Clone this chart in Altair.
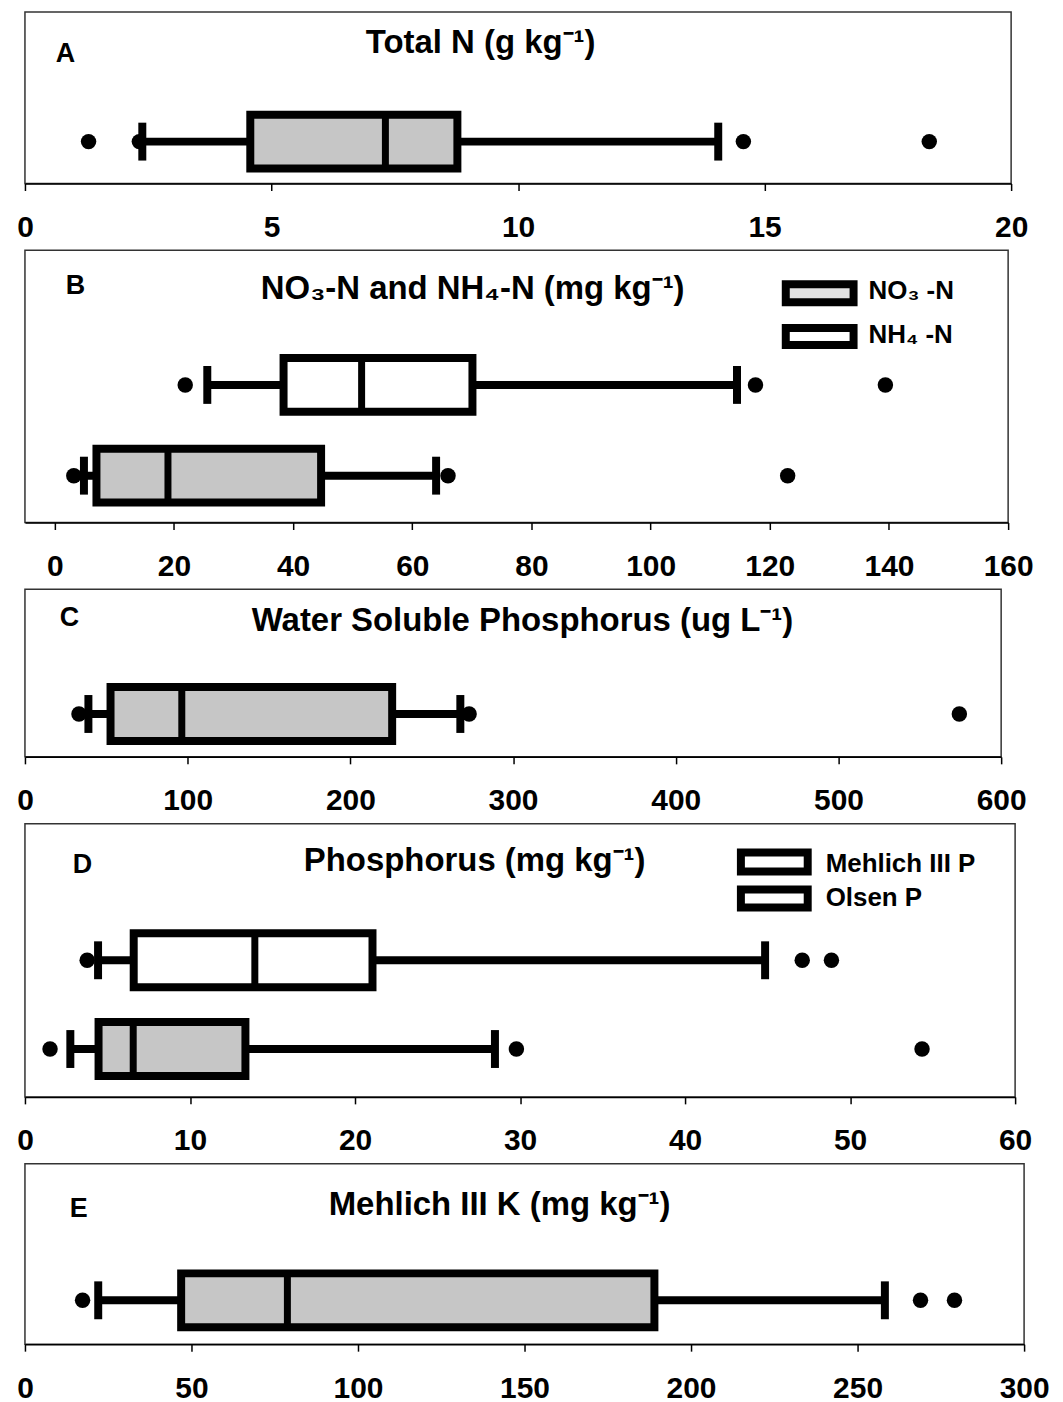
import altair as alt
import pandas as pd

FONT = "Liberation Sans"
GREY = "#c6c6c6"

# ---------------- data ----------------
# A: Total N (g kg-1)
a_series = ["Total N"]
a_low = [2.38]
a_q1 = [4.57]
a_median = [7.31]
a_q3 = [8.77]
a_high = [14.06]
a_out_series = ["Total N", "Total N", "Total N", "Total N"]
a_out_value = [1.29, 2.32, 14.57, 18.34]

# B: NO3-N and NH4-N (mg kg-1)
b_series = ["NH₄ -N", "NO₃ -N"]
b_low = [25.6, 4.9]
b_q1 = [38.4, 7.0]
b_median = [51.5, 19.0]
b_q3 = [70.1, 44.7]
b_high = [114.5, 64.0]
b_out_series = ["NH₄ -N", "NH₄ -N", "NH₄ -N", "NO₃ -N", "NO₃ -N", "NO₃ -N"]
b_out_value = [21.9, 117.6, 139.4, 3.2, 66.0, 123.0]

# C: Water soluble phosphorus (ug L-1)
c_series = ["WSP"]
c_low = [39.0]
c_q1 = [52.6]
c_median = [96.4]
c_q3 = [225.7]
c_high = [267.6]
c_out_series = ["WSP", "WSP", "WSP"]
c_out_value = [33.2, 273.0, 574.3]

# D: Phosphorus (mg kg-1)
d_series = ["Mehlich III P", "Olsen P"]
d_low = [4.43, 2.75]
d_q1 = [6.59, 4.46]
d_median = [13.93, 6.56]
d_q3 = [21.06, 13.36]
d_high = [44.85, 28.48]
d_out_series = ["Mehlich III P", "Mehlich III P", "Mehlich III P", "Olsen P", "Olsen P", "Olsen P"]
d_out_value = [3.77, 47.1, 48.87, 1.52, 29.78, 54.36]

# E: Mehlich III K (mg kg-1)
e_series = ["Mehlich III K"]
e_low = [22.0]
e_q1 = [46.9]
e_median = [78.8]
e_q3 = [189.0]
e_high = [258.2]
e_out_series = ["Mehlich III K", "Mehlich III K", "Mehlich III K"]
e_out_value = [17.3, 268.9, 279.1]

# tick labels
a_ticks = [0, 5, 10, 15, 20]
b_ticks = [0, 20, 40, 60, 80, 100, 120, 140, 160]
c_ticks = [0, 100, 200, 300, 400, 500, 600]
d_ticks = [0, 10, 20, 30, 40, 50, 60]
e_ticks = [0, 50, 100, 150, 200, 250, 300]


def panel(series, low, q1, med, q3, high, out_series, out_value, fills,
          domain, ticks, width, height, rows, title, letter,
          title_xy, letter_xy, legend=None):
    stats = pd.DataFrame({"series": series, "low": low, "q1": q1,
                          "median": med, "q3": q3, "high": high})
    outs = pd.DataFrame({"series": out_series, "value": out_value})
    xscale = alt.Scale(domain=domain, nice=False, zero=False)
    ax = alt.Axis(values=ticks, title=None, grid=False, labelFlush=False,
                  format="d")

    def X(field):
        return alt.X(field, type="quantitative", scale=xscale, axis=ax)

    yenc = alt.Y("series:N",
                 scale=alt.Scale(type="point", domain=series, range=rows, padding=0),
                 axis=None)

    whisker = alt.Chart(stats).mark_rule(color="black", strokeWidth=8).encode(
        x=X("low"), x2="high", y=yenc)
    cap_lo = alt.Chart(stats).mark_tick(orient="vertical", color="black", opacity=1,
                                        size=38, thickness=8).encode(x=X("low"), y=yenc)
    cap_hi = alt.Chart(stats).mark_tick(orient="vertical", color="black", opacity=1,
                                        size=38, thickness=8).encode(x=X("high"), y=yenc)
    box = alt.Chart(stats).mark_bar(size=54, stroke="black", strokeWidth=8,
                                    strokeJoin="miter", opacity=1).encode(
        x=X("q1"), x2="q3", y=yenc,
        fill=alt.Fill("series:N", scale=alt.Scale(domain=series, range=fills), legend=None))
    median = alt.Chart(stats).mark_tick(orient="vertical", color="black", opacity=1,
                                        size=54, thickness=7).encode(x=X("median"), y=yenc)
    points = alt.Chart(outs).mark_circle(size=240, color="black", opacity=1).encode(
        x=X("value"), y=yenc)

    ttl = alt.Chart(pd.DataFrame({"t": [title]})).mark_text(
        font=FONT, fontSize=33, fontWeight="bold", align="center",
        baseline="alphabetic", color="black").encode(
        x=alt.value(title_xy[0]), y=alt.value(title_xy[1]), text="t:N")
    let = alt.Chart(pd.DataFrame({"t": [letter]})).mark_text(
        font=FONT, fontSize=27, fontWeight="bold", align="left",
        baseline="alphabetic", color="black").encode(
        x=alt.value(letter_xy[0]), y=alt.value(letter_xy[1]), text="t:N")

    layers = [whisker, cap_lo, cap_hi, box, median, points, ttl, let]

    if legend is not None:
        labels, lfills, rx, rys, tx, tys = legend
        for lab, lf, (y0, y1), ty in zip(labels, lfills, rys, tys):
            d = pd.DataFrame({"t": [lab]})
            layers.append(alt.Chart(d).mark_rect(fill=lf, stroke="black", strokeWidth=8,
                                                 strokeJoin="miter").encode(
                x=alt.value(rx[0]), x2=alt.value(rx[1]),
                y=alt.value(y0), y2=alt.value(y1)))
            layers.append(alt.Chart(d).mark_text(
                font=FONT, fontSize=26, fontWeight="bold", align="left",
                baseline="alphabetic", color="black").encode(
                x=alt.value(tx), y=alt.value(ty), text="t:N"))

    return alt.layer(*layers).properties(width=width, height=height)


pA = panel(a_series, a_low, a_q1, a_median, a_q3, a_high, a_out_series, a_out_value,
           [GREY], [0, 20], a_ticks, 989, 172, [130, 130],
           "Total N (g kg⁻¹)", "A", (457, 41), (31, 50))

pB = panel(b_series, b_low, b_q1, b_median, b_q3, b_high, b_out_series, b_out_value,
           ["white", GREY], [-5, 160], b_ticks, 986, 273, [135, 226],
           "NO₃-N and NH₄-N  (mg kg⁻¹)", "B", (449, 49), (41, 44),
           legend=(["NO₃ -N", "NH₄ -N"], ["#e2e2e2", "white"], (763, 831),
                   [(34, 52), (78, 95)], 846, [49, 93]))

pC = panel(c_series, c_low, c_q1, c_median, c_q3, c_high, c_out_series, c_out_value,
           [GREY], [0, 600], c_ticks, 979, 168, [125, 125],
           "Water Soluble Phosphorus (ug L⁻¹)", "C", (499, 42), (35, 37))

pD = panel(d_series, d_low, d_q1, d_median, d_q3, d_high, d_out_series, d_out_value,
           ["white", GREY], [0, 60], d_ticks, 993, 274, [137, 226],
           "Phosphorus (mg kg⁻¹)", "D", (451, 47), (48, 49),
           legend=(["Mehlich III P", "Olsen P"], ["white", "white"], (718, 785),
                   [(29, 48), (66, 84)], 803, [48, 83]))

pE = panel(e_series, e_low, e_q1, e_median, e_q3, e_high, e_out_series, e_out_value,
           [GREY], [0, 300], e_ticks, 1002, 181, [137, 137],
           "Mehlich III K (mg kg⁻¹)", "E", (476, 51), (45, 53))

chart = alt.vconcat(pA, pB, pC, pD, pE, spacing=67, bounds="flush").resolve_scale(
    x="independent", y="independent", fill="independent"
).properties(
    padding={"left": 7, "top": 1, "right": 5, "bottom": 2},
    background="white",
).configure_view(
    stroke="#333333", strokeWidth=1.5
).configure_axis(
    domainColor="black", domainWidth=1.5, tickColor="black", tickWidth=1.5,
    tickSize=7, labelFont=FONT, labelFontSize=30, labelFontWeight="bold",
    labelColor="black", labelPadding=22,
)

chart.save("out.html", embed_options={"renderer": "svg", "actions": False})
